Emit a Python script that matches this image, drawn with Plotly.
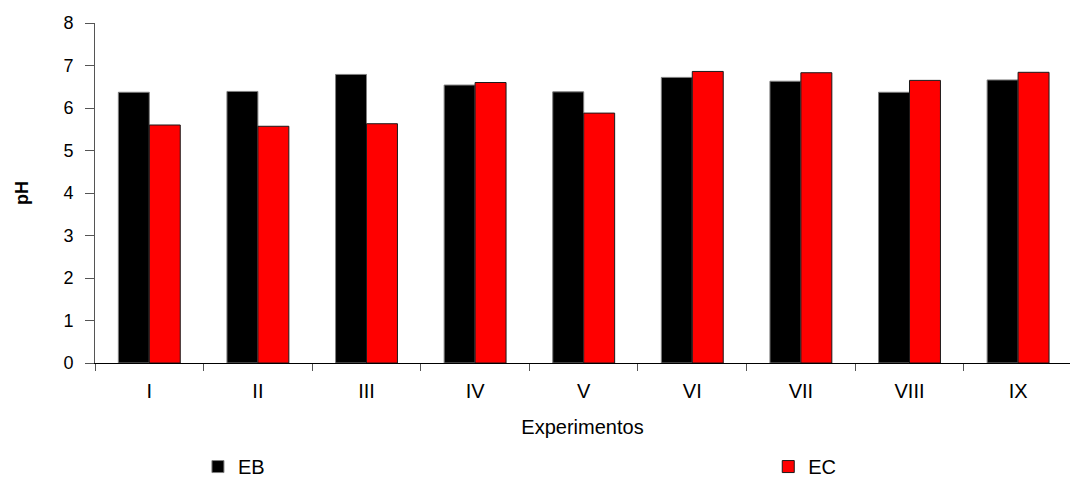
import plotly.graph_objects as go

# pH measured per experiment for the two effluents
experimentos = ["I", "II", "III", "IV", "V", "VI", "VII", "VIII", "IX"]
ph_eb = [6.37, 6.39, 6.79, 6.54, 6.38, 6.72, 6.63, 6.37, 6.66]
ph_ec = [5.60, 5.57, 5.63, 6.60, 5.88, 6.86, 6.83, 6.65, 6.84]
y_ticks = [0, 1, 2, 3, 4, 5, 6, 7, 8]

FONT = "Liberation Sans, Arial, sans-serif"

fig = go.Figure()
fig.add_trace(go.Bar(
    name="EB", x=experimentos, y=ph_eb, legend="legend",
    marker=dict(color="#000000", line=dict(color="#7f7f7f", width=1)),
))
fig.add_trace(go.Bar(
    name="EC", x=experimentos, y=ph_ec, legend="legend2",
    marker=dict(color="#ff0000", line=dict(color="#1a1a1a", width=1)),
))

legend_style = dict(
    orientation="h", xref="container", yref="container",
    xanchor="left", yanchor="middle", y=0.028,
    font=dict(size=20, family=FONT), bgcolor="rgba(0,0,0,0)", itemclick=False,
)

fig.update_layout(
    width=1070, height=480,
    margin=dict(l=95, r=0, t=23, b=117),
    paper_bgcolor="white", plot_bgcolor="white",
    barmode="group", bargap=0.43, bargroupgap=0,
    font=dict(family=FONT, color="#000000"),
    showlegend=True,
    legend=dict(legend_style, x=0.185),
    legend2=dict(legend_style, x=0.718),
    xaxis=dict(
        range=[-0.5, 8.478], showline=True, linecolor="#000000", linewidth=1,
        ticks="outside", tickson="boundaries", ticklen=7, tickcolor="#555555",
        ticklabelstandoff=10,
        tickfont=dict(size=20, family=FONT), showgrid=False, zeroline=False,
        title=dict(text="Experimentos", font=dict(size=20, family=FONT), standoff=18),
        fixedrange=True,
    ),
    yaxis=dict(
        range=[0, 8], tickvals=y_ticks, showline=True, linecolor="#555555", linewidth=1,
        ticks="outside", ticklen=9, tickcolor="#555555", ticklabelstandoff=8,
        tickfont=dict(size=18, family=FONT), showgrid=False, zeroline=False,
        title=dict(text="<b>pH</b>", font=dict(size=18, family=FONT), standoff=30),
        fixedrange=True,
    ),
)

fig.write_html("out.html")
